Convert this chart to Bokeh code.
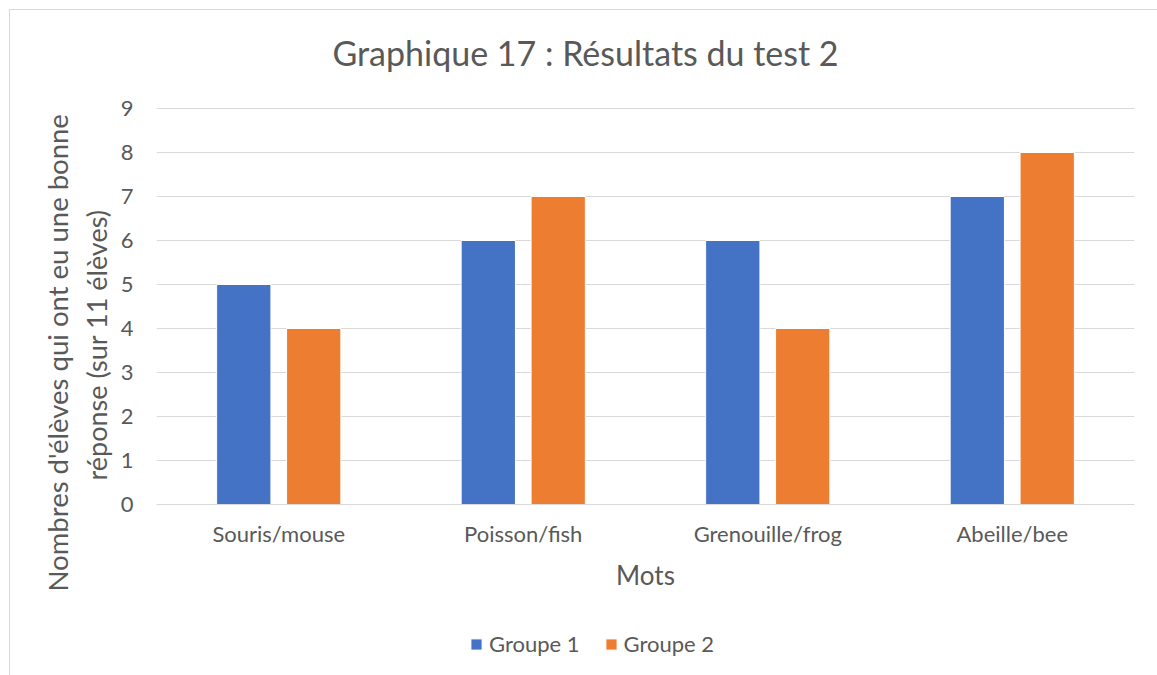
from bokeh.plotting import figure
from bokeh.models import ColumnDataSource, FactorRange, Range1d, Title, Legend, LegendItem, Label
from bokeh.transform import dodge
from bokeh.embed import file_html
from bokeh.resources import INLINE

categories = ["Souris/mouse", "Poisson/fish", "Grenouille/frog", "Abeille/bee"]
groupe1 = [5, 6, 6, 7]
groupe2 = [4, 7, 4, 8]
series_names = ["Groupe 1", "Groupe 2"]
colors = ["#4472C4", "#ED7D31"]
title_text = "Graphique 17 : Résultats du test 2"
y_label_lines = ["Nombres d'élèves qui ont eu une bonne", "réponse (sur 11 élèves)"]
x_label = "Mots"
y_ticks = list(range(0, 10))

FONT = "Lato"
TXT = "#595959"
BORDER = "#D9D9D9"

# layout (pixels)
W, H = 1157, 675
LEFT, RIGHT = 156, 23
Y0_PX, Y9_PX = 504, 108          # screen rows of value 0 and value 9
PX_PER_UNIT = (Y0_PX - Y9_PX) / 9.0
y_start = -(H - Y0_PX) / PX_PER_UNIT
y_end = 9 + Y9_PX / PX_PER_UNIT

src = ColumnDataSource(dict(cat=categories, g1=groupe1, g2=groupe2))

p = figure(width=W, height=H, x_range=FactorRange(*categories), y_range=Range1d(y_start, y_end),
           output_backend="svg", toolbar_location=None,
           min_border_left=LEFT, min_border_right=RIGHT, min_border_top=0, min_border_bottom=0)
p.outline_line_color = None
p.background_fill_alpha = 0
p.border_fill_alpha = 0
# light grey chart-area border (top and left edges, as in the reference)
p.styles = {
    "background": (f"linear-gradient({BORDER},{BORDER}) 9px 9px / {W - 9}px 1px no-repeat, "
                   f"linear-gradient({BORDER},{BORDER}) 9px 9px / 1px {H - 9}px no-repeat, white"),
}

r1 = p.vbar(x=dodge("cat", -0.143, range=p.x_range), top="g1", width=0.222, source=src,
            fill_color=colors[0], line_color="white", line_width=1)
r2 = p.vbar(x=dodge("cat", 0.143, range=p.x_range), top="g2", width=0.222, source=src,
            fill_color=colors[1], line_color="white", line_width=1)

p.xgrid.grid_line_color = None
p.ygrid.grid_line_color = "#D9D9D9"
p.ygrid.grid_line_width = 1
p.yaxis.ticker = y_ticks
p.yaxis.axis_line_color = None
p.yaxis.major_tick_line_color = None
p.yaxis.minor_tick_line_color = None
p.yaxis.major_label_standoff = 17
p.yaxis.major_label_text_font = FONT
p.yaxis.major_label_text_font_size = "22px"
p.yaxis.major_label_text_color = TXT

p.xaxis.fixed_location = 0
p.xaxis.axis_line_color = "#D9D9D9"
p.xaxis.major_tick_line_color = None
p.xaxis.minor_tick_line_color = None
p.xaxis.major_label_standoff = 9
p.xaxis.major_label_text_font = FONT
p.xaxis.major_label_text_font_size = "22px"
p.xaxis.major_label_text_color = TXT
p.xaxis.axis_label = x_label
p.xaxis.axis_label_text_font = FONT
p.xaxis.axis_label_text_font_size = "26px"
p.xaxis.axis_label_text_font_style = "normal"
p.xaxis.axis_label_text_color = TXT
p.xaxis.axis_label_standoff = 9

# main title (inside the frame, screen units from frame bottom-left)
p.add_layout(Label(x=429, y=H - 52, x_units="screen", y_units="screen", text=title_text,
                   text_align="center", text_baseline="middle", text_font=FONT,
                   text_font_size="34px", text_color=TXT))

# y-axis label, two lines (nearest line first)
p.add_layout(Title(text=y_label_lines[1], align="left", offset=H - 480, standoff=9,
                   text_font=FONT, text_font_size="27px", text_font_style="normal",
                   text_color=TXT), "left")
p.add_layout(Title(text=y_label_lines[0], align="left", offset=H - 591, standoff=0,
                   text_font=FONT, text_font_size="27.5px", text_font_style="normal",
                   text_color=TXT), "left")

legend = Legend(items=[LegendItem(label=series_names[0], renderers=[r1]),
                       LegendItem(label=series_names[1], renderers=[r2])],
                orientation="horizontal", location=(469 - LEFT, H - 657), padding=0, margin=0,
                spacing=24, glyph_width=14, glyph_height=14, label_standoff=6,
                label_text_font=FONT, label_text_font_size="22px", label_text_color=TXT,
                border_line_color=None, background_fill_alpha=0)
p.add_layout(legend, "center")

open("out.html", "w").write(file_html(p, INLINE))
